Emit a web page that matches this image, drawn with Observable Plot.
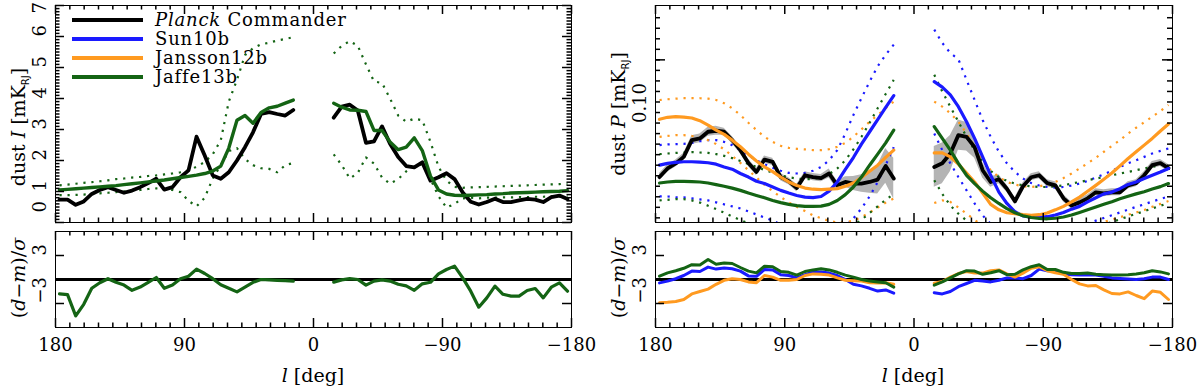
<!DOCTYPE html>
<html><head><meta charset="utf-8">
<script src="https://cdn.jsdelivr.net/npm/d3@7"></script>
<script src="https://cdn.jsdelivr.net/npm/@observablehq/plot@0.6"></script>
<style>
body{margin:0;background:#fff;}
#c{position:relative;width:1200px;height:386px;font-family:"DejaVu Serif",serif;color:#000;overflow:hidden;background:#fff}
#c svg{position:absolute}
.lab{position:absolute;white-space:nowrap;font-size:19px;line-height:1}
.rot{transform:translate(-50%,-50%) rotate(-90deg)}
.ctr{transform:translate(-50%,-50%)}
.sb{font-family:"DejaVu Sans",sans-serif;font-size:10px;position:relative;top:4px}
#legend{position:absolute;left:72px;top:10px;font-size:18px;letter-spacing:0.8px;line-height:18px}
#legend .row{height:19px;display:flex;align-items:center}
#legend .sw{display:inline-block;width:71px;height:4px;margin-right:12px}
</style></head>
<body><div id="c"></div>
<script>
// Galactic longitude grid (deg)
const lPos = [177.2,171.6,165.9,160.3,154.7,149.1,143.4,137.8,132.2,126.6,120.9,115.3,109.7,104.1,98.4,92.8,87.2,81.6,75.9,70.3,64.7,59.1,53.4,47.8,42.2,36.6,30.9,25.3,19.7,14.1];
const lNeg = [-14.1,-19.7,-25.3,-30.9,-36.6,-42.2,-47.8,-53.4,-59.1,-64.7,-70.3,-75.9,-81.6,-87.2,-92.8,-98.4,-104.1,-109.7,-115.3,-120.9,-126.6,-132.2,-137.8,-143.4,-149.1,-154.7,-160.3,-165.9,-171.6,-177.2];

// dust I [mK_RJ]
const IPlanckPos = [0.74,0.74,0.57,0.68,0.92,1.05,1.14,1.05,0.96,1.03,1.14,1.27,1.41,1.06,1.14,1.46,1.68,2.77,2.16,1.52,1.41,1.62,2.0,2.43,2.91,3.5,3.56,3.5,3.45,3.63];
const IPlanckNeg = [3.38,3.74,3.8,3.61,2.57,2.62,3.1,2.54,2.11,1.82,1.78,1.94,1.35,1.46,1.59,1.4,0.97,0.67,0.58,0.66,0.77,0.66,0.66,0.71,0.76,0.74,0.66,0.82,0.87,0.76];
const IJaffePos = [1.05,1.07,1.09,1.11,1.13,1.15,1.17,1.19,1.22,1.25,1.28,1.31,1.34,1.37,1.41,1.45,1.49,1.53,1.58,1.66,1.82,2.4,3.3,3.45,3.2,3.55,3.7,3.75,3.85,3.95];
const IJaffeNeg = [3.85,3.72,3.63,3.62,3.58,2.97,2.97,2.6,2.35,2.43,2.73,2.32,1.5,1.05,0.92,0.88,0.87,0.88,0.89,0.9,0.92,0.93,0.95,0.96,0.97,0.98,0.99,1.0,1.01,1.03];
const IJaffeHiPos = [1.2,1.22,1.25,1.28,1.3,1.33,1.36,1.4,1.42,1.45,1.47,1.5,1.52,1.55,1.58,1.62,1.68,1.8,1.95,2.2,2.65,3.9,4.6,5.4,5.62,5.75,5.8,5.87,5.92,5.98];
const IJaffeLoPos = [0.88,0.88,0.89,0.9,0.92,0.94,0.96,0.98,1.0,1.02,1.05,1.08,1.1,1.08,1.05,0.98,0.7,0.52,0.8,1.42,1.85,2.3,2.4,2.05,1.85,1.75,1.73,1.62,1.85,1.92];
const IJaffeHiNeg = [5.45,5.7,5.85,5.7,5.1,4.55,4.5,4.0,3.45,3.25,3.35,3.3,2.6,1.8,1.35,1.15,1.12,1.13,1.14,1.15,1.16,1.17,1.18,1.19,1.2,1.21,1.22,1.23,1.24,1.25];
const IJaffeLoNeg = [2.2,1.85,1.42,1.6,2.1,1.9,1.45,1.25,1.4,1.65,1.82,1.88,1.4,0.85,0.48,0.6,0.78,0.8,0.78,0.8,0.8,0.81,0.81,0.82,0.82,0.83,0.83,0.84,0.84,0.85];
// (d-m)/sigma for I
const RIJaffePos = [-1.8,-1.9,-4.55,-3.1,-1.1,-0.4,0.1,-0.35,-0.7,-1.35,-0.95,-0.35,0.25,-1.1,-0.7,0.1,0.4,1.3,0.75,0.1,-0.65,-1.1,-1.55,-0.95,-0.35,0.0,-0.05,-0.1,-0.15,-0.2];
const RIJaffeNeg = [-0.33,-0.05,0.1,0.0,-0.7,-0.2,-0.05,-0.2,-0.6,-0.8,-1.35,-0.54,-0.35,0.71,1.25,1.67,0.21,-1.46,-3.46,-2.3,-0.83,-1.85,-2.08,-2.08,-1.38,-1.13,-2.3,-0.96,-0.42,-1.46];

// dust P [mK_RJ]
const PPlanckPos = [0.0553,0.0608,0.0642,0.069,0.0829,0.0845,0.0909,0.0919,0.0909,0.0829,0.0743,0.0646,0.0585,0.067,0.0653,0.0553,0.0528,0.049,0.0564,0.0553,0.0547,0.0575,0.0505,0.0524,0.0515,0.0515,0.0524,0.0538,0.0625,0.0544];
const PPlanckNeg = [0.0618,0.0643,0.0716,0.0876,0.086,0.0768,0.0596,0.0524,0.054,0.0487,0.0424,0.05,0.0552,0.0564,0.0517,0.0505,0.0438,0.0405,0.0419,0.0438,0.0468,0.0463,0.0468,0.0468,0.0505,0.0517,0.0564,0.063,0.0645,0.061];
const PErrPos = [0.04,0.04,0.04,0.04,0.05,0.05,0.05,0.05,0.04,0.04,0.04,0.04,0.04,0.04,0.04,0.04,0.04,0.04,0.04,0.04,0.04,0.05,0.05,0.06,0.08,0.1,0.13,0.17,0.21,0.25];
const PErrNeg = [0.25,0.25,0.22,0.18,0.17,0.13,0.09,0.06,0.05,0.04,0.04,0.04,0.04,0.04,0.04,0.04,0.04,0.04,0.04,0.04,0.04,0.04,0.04,0.04,0.04,0.04,0.04,0.04,0.04,0.04];
const PSunPos = [0.063,0.0643,0.065,0.0654,0.0654,0.0652,0.0647,0.0637,0.0618,0.0603,0.0575,0.0553,0.0528,0.0515,0.0496,0.0478,0.0464,0.0452,0.0444,0.0441,0.0447,0.0474,0.0524,0.0601,0.0685,0.0794,0.0909,0.1038,0.1188,0.1351];
const PSunNeg = [0.1576,0.1482,0.1361,0.1197,0.1014,0.0845,0.069,0.0564,0.0469,0.0414,0.0378,0.0361,0.0356,0.0356,0.0358,0.0365,0.0375,0.0389,0.0401,0.0421,0.0441,0.046,0.0469,0.0487,0.051,0.0524,0.0544,0.0564,0.0585,0.0608];
const PSunHiPos = [0.0785,0.0791,0.0794,0.0796,0.0805,0.0819,0.0829,0.0829,0.0813,0.0785,0.0743,0.0703,0.0665,0.0637,0.0612,0.0593,0.0579,0.0575,0.0579,0.0593,0.0618,0.0665,0.0743,0.0892,0.1092,0.1313,0.1576,0.1863,0.2116,0.2362];
const PSunLoPos = [0.0447,0.0447,0.0443,0.0443,0.0438,0.0433,0.0428,0.0419,0.041,0.0401,0.0392,0.0379,0.0367,0.0355,0.0343,0.0329,0.0315,0.0302,0.0289,0.0283,0.0283,0.0289,0.0302,0.0323,0.0351,0.0392,0.0447,0.0524,0.063,0.0768];
const PSunHiNeg = [0.2786,0.2406,0.2155,0.2015,0.1606,0.1288,0.1034,0.086,0.073,0.0643,0.0585,0.0544,0.0518,0.0504,0.0496,0.0493,0.0496,0.0504,0.0515,0.053,0.055,0.0571,0.0592,0.0618,0.0643,0.0665,0.069,0.0716,0.0737,0.0757];
const PSunLoNeg = [0.0892,0.0743,0.0643,0.0553,0.0478,0.0414,0.0363,0.0331,0.0308,0.0297,0.029,0.029,0.029,0.0292,0.0297,0.0302,0.0308,0.0315,0.0324,0.0333,0.0343,0.0353,0.0364,0.0375,0.0387,0.0399,0.041,0.0423,0.0435,0.0447];
const PJanPos = [0.1042,0.1065,0.1072,0.1068,0.1057,0.1026,0.0978,0.0926,0.0883,0.0829,0.0771,0.0711,0.066,0.0618,0.0587,0.0553,0.0524,0.0504,0.049,0.0484,0.0482,0.0484,0.0487,0.05,0.0518,0.055,0.0589,0.063,0.0686,0.0743];
const PJanNeg = [0.0721,0.0721,0.069,0.0637,0.0578,0.0524,0.0464,0.041,0.0386,0.0374,0.037,0.0366,0.0363,0.0366,0.0373,0.0386,0.0401,0.0421,0.0444,0.0473,0.0505,0.054,0.0578,0.0625,0.0678,0.073,0.0785,0.0845,0.0917,0.0989];
const PJanHiPos = [0.1288,0.1298,0.1307,0.1313,0.1313,0.1313,0.1307,0.1288,0.1243,0.1176,0.1092,0.1003,0.0926,0.086,0.0814,0.0779,0.0762,0.0754,0.0749,0.0743,0.0743,0.0751,0.0771,0.0805,0.086,0.0933,0.1014,0.1092,0.1176,0.1265];
const PJanLoPos = [0.086,0.0868,0.0876,0.0876,0.0868,0.0854,0.0829,0.0794,0.0749,0.0698,0.0646,0.0596,0.055,0.0508,0.0474,0.0444,0.0419,0.0399,0.0381,0.0363,0.0352,0.0342,0.0336,0.0337,0.0343,0.0356,0.0375,0.0396,0.0418,0.0437];
const PJanHiNeg = [0.1265,0.1197,0.1113,0.1014,0.0892,0.0771,0.0665,0.0596,0.0553,0.0524,0.0509,0.05,0.0496,0.05,0.0509,0.0524,0.0547,0.0575,0.0608,0.0643,0.0683,0.073,0.0779,0.0829,0.0892,0.095,0.1008,0.1072,0.1141,0.1219];
const PJanLoNeg = [0.0416,0.0428,0.0421,0.0396,0.037,0.0346,0.0325,0.0308,0.0297,0.029,0.0287,0.0285,0.0285,0.0287,0.029,0.0297,0.0302,0.0308,0.0315,0.0322,0.033,0.0338,0.0347,0.0356,0.0366,0.0375,0.0385,0.0399,0.0412,0.0425];
const PJafPos = [0.0518,0.0524,0.0528,0.0528,0.0526,0.0524,0.0518,0.0509,0.05,0.049,0.0478,0.0464,0.0452,0.0441,0.0428,0.0418,0.041,0.0404,0.0401,0.0401,0.0402,0.041,0.0428,0.0456,0.0496,0.0553,0.063,0.0711,0.0805,0.0926];
const PJafNeg = [0.0961,0.0845,0.0743,0.0643,0.0564,0.0515,0.0474,0.0441,0.0414,0.0391,0.0374,0.0362,0.0355,0.0351,0.035,0.0352,0.0357,0.0365,0.0375,0.0386,0.0398,0.041,0.0422,0.0436,0.0448,0.046,0.0471,0.0485,0.0498,0.0515];
const PJafHiPos = [0.0711,0.0716,0.0721,0.0724,0.0727,0.0724,0.0721,0.0711,0.0698,0.0681,0.066,0.0638,0.0618,0.0598,0.0581,0.0564,0.0552,0.0544,0.054,0.0542,0.055,0.0571,0.0608,0.0665,0.0749,0.086,0.1003,0.1176,0.1376,0.1606];
const PJafLoPos = [0.0428,0.0431,0.0434,0.0434,0.0428,0.0418,0.0404,0.0389,0.0374,0.0359,0.0345,0.0333,0.0322,0.0313,0.0305,0.0299,0.0293,0.0289,0.0286,0.0285,0.0286,0.0288,0.0297,0.0309,0.0325,0.0346,0.0373,0.0401,0.0431,0.046];
const PJafHiNeg = [0.1697,0.1412,0.1197,0.1014,0.086,0.0743,0.0654,0.0592,0.0553,0.053,0.0515,0.0505,0.05,0.0496,0.0496,0.05,0.0505,0.0515,0.0524,0.0534,0.0544,0.0553,0.0564,0.0575,0.0585,0.0596,0.0608,0.0618,0.063,0.0643];
const PJafLoNeg = [0.0534,0.046,0.0405,0.037,0.0343,0.0322,0.0306,0.0295,0.0289,0.0285,0.0282,0.0281,0.0281,0.0282,0.0285,0.0288,0.029,0.0297,0.0303,0.0311,0.0319,0.0328,0.0338,0.0348,0.0359,0.037,0.038,0.0392,0.0404,0.0416];
// (d-m)/sigma for P
const RSunPos = [-0.42,-0.2,0.1,0.5,1.05,1.0,1.55,1.3,1.45,1.35,1.05,0.45,0.4,1.25,1.2,0.6,0.5,0.2,0.6,0.9,0.95,0.8,0.5,0.0,-0.6,-0.8,-1.1,-1.45,-1.3,-1.7];
const RSunNeg = [-1.65,-1.8,-1.5,-0.9,-0.5,-0.1,-0.2,-0.3,-0.1,0.2,0.2,0.1,0.5,1.3,1.1,1.05,0.7,0.6,0.55,0.6,0.55,0.4,0.2,0.12,0.05,0.0,0.1,0.3,0.3,0.0];
const RJanPos = [-2.9,-2.85,-2.75,-2.5,-1.8,-1.5,-1.2,-0.6,-0.1,0.1,0.0,-0.3,-0.4,0.5,0.3,-0.1,-0.1,0.0,0.5,0.7,0.65,0.55,0.2,-0.1,-0.15,-0.2,-0.4,-0.45,-0.4,-0.6];
const RJanNeg = [-0.45,-0.25,0.3,0.75,1.0,0.8,0.8,1.1,1.2,0.7,0.3,0.8,1.4,1.6,1.1,0.85,0.65,0.0,-0.55,-0.8,-0.75,-1.3,-1.75,-1.8,-1.55,-2.0,-2.4,-1.45,-1.6,-2.5];
const RJafPos = [0.42,0.83,1.1,1.4,1.85,1.8,2.5,1.9,2.05,2.0,1.5,1.05,0.83,1.67,1.6,1.0,0.9,0.55,1.0,1.2,1.35,1.2,0.9,0.55,0.3,0.0,-0.2,-0.3,-0.4,-0.95];
const RJafNeg = [-0.7,-0.3,0.2,0.7,1.1,1.05,0.65,0.85,1.1,0.6,0.65,1.2,1.6,1.85,1.25,1.25,0.9,0.75,0.75,0.8,0.65,0.6,0.55,0.55,0.6,0.7,0.85,1.1,0.95,0.7];

// axis ticks and labels
const xTickVals = [180, 90, 0, -90, -180];
const xTickLabels = ["180", "90", "0", "−90", "−180"];
const iTickVals = [0,1,2,3,4,5,6,7];
const iTickLabels = ["0","1","2","3","4","5","6","7"];
const rTickVals = [3, -3];
const rTickLabels = ["3", "−3"];
const pTickVals = [0.1];
const pTickLabels = ["0.10"];

const series = ["Planck Commander", "Sun10b", "Jansson12b", "Jaffe13b"];
const colors = ["#000000", "#1a1aff", "#ff9a20", "#146414"];
const [cBlack, cBlue, cOrange, cGreen] = colors;

const rows = (pos, neg) => [
  ...lPos.map((l, i) => ({l, v: pos[i], s: "pos"})),
  ...lNeg.map((l, i) => ({l, v: neg[i], s: "neg"}))
];
const band = (pos, neg, ep, en) => [
  ...lPos.map((l, i) => ({l, lo: pos[i] / (1 + ep[i]), hi: pos[i] * (1 + ep[i]), s: "pos"})),
  ...lNeg.map((l, i) => ({l, lo: neg[i] / (1 + en[i]), hi: neg[i] * (1 + en[i]), s: "neg"}))
];

const xMinor = d3.range(-170, 180, 10).filter(d => d % 90 !== 0);
const tk = {stroke: "#000", strokeWidth: 1.5};
// inward ticks: y ticks on left/right edges, x ticks on bottom/top edges (lengths in px converted via scale extents)
function ticksY(vals, len, fw) {
  const dl = len * 360 / fw;
  return [
    Plot.ruleY(vals, {y: d => d, x1: 180, x2: 180 - dl, ...tk}),
    Plot.ruleY(vals, {y: d => d, x1: -180, x2: -180 + dl, ...tk})
  ];
}
function ticksX(vals, len, fh, y0, y1, log = false) {
  const t = len / fh;
  const lo = log ? y0 * Math.pow(y1 / y0, t) : y0 + (y1 - y0) * t;
  const hi = log ? y1 * Math.pow(y0 / y1, t) : y1 - (y1 - y0) * t;
  return [
    Plot.ruleX(vals, {x: d => d, y1: y0, y2: lo, ...tk}),
    Plot.ruleX(vals, {x: d => d, y1: y1, y2: hi, ...tk})
  ];
}
const dotted = (data, color) => Plot.line(data, {x: "l", y: "v", z: "s", stroke: color, strokeWidth: 2.2, strokeDasharray: "2.2,5.8", strokeLinecap: "butt", clip: true});
const solid = (data, color, w = 3.2) => Plot.line(data, {x: "l", y: "v", z: "s", stroke: color, strokeWidth: w, strokeLinejoin: "round", clip: true});
function yLabelsClamped(vals, labs) {
  const items = vals.map((v, i) => ({v, t: labs[i]}));
  const mk = (arr, dy) => Plot.text(arr, {y: "v", text: "t", frameAnchor: "left", dx: -15, dy, rotate: -90, fontSize: 18});
  return [mk(items.slice(1, -1), 0), mk(items.slice(0, 1), -10), mk(items.slice(-1), 8)];
}
function yLabelsPlain(vals, labs) {
  const items = vals.map((v, i) => ({v, t: labs[i]}));
  return [Plot.text(items, {y: "v", text: "t", frameAnchor: "left", dx: -15, rotate: -90, fontSize: 18})];
}
const xLabels = Plot.text(xTickVals.map((v, i) => ({v, t: xTickLabels[i]})), {x: "v", text: "t", frameAnchor: "bottom", dy: 23, fontSize: 18});

const base = {width: 600, marginLeft: 55,
  style: {background: "transparent", fontFamily: "DejaVu Serif", fontSize: "18px", overflow: "visible"},
  x: {domain: [180, -180], axis: null}};
// main panels: svg at top 0, frame y 5..222 ; residual panels: svg at top 226, frame y 231..327
const mainV = {height: 226, marginTop: 5, marginBottom: 4};
const resV = {height: 160, marginTop: 5, marginBottom: 59};
const HM = 217, HR = 96, WL = 516, WR = 517;
const iDom = [0, 7], rDom = [-6, 6], pDom = [0.0336, 0.363];

const c = document.getElementById("c");
function put(svg, left, top) { svg.style.left = left + "px"; svg.style.top = top + "px"; c.appendChild(svg); }

// Left main: dust I
put(Plot.plot({...base, ...mainV, marginRight: 29,
  y: {domain: iDom, axis: null},
  marks: [
    ...yLabelsClamped(iTickVals, iTickLabels),
    dotted(rows(IJaffeHiPos, IJaffeHiNeg), cGreen),
    dotted(rows(IJaffeLoPos, IJaffeLoNeg), cGreen),
    solid(rows(IPlanckPos, IPlanckNeg), cBlack, 3.8),
    solid(rows(IJaffePos, IJaffeNeg), cGreen, 3.4),
    ...ticksY(iTickVals, 9, WL), ...ticksY(d3.range(1, 70).filter(d => d % 10 !== 0).map(d => d / 10), 4.5, WL),
    ...ticksX(xTickVals, 9, HM, ...iDom), ...ticksX(xMinor, 4.5, HM, ...iDom),
    Plot.frame({stroke: "black"})
  ]}), 0, 0);

// Left residual
put(Plot.plot({...base, ...resV, marginRight: 29,
  y: {domain: rDom, axis: null},
  marks: [
    ...yLabelsPlain(rTickVals, rTickLabels), xLabels,
    Plot.ruleY([0], {stroke: "black", strokeWidth: 3}),
    solid(rows(RIJaffePos, RIJaffeNeg), cGreen, 3.2),
    ...ticksY(rTickVals, 9, WL),
    ...ticksX(xTickVals, 9, HR, ...rDom), ...ticksX(xMinor, 4.5, HR, ...rDom),
    Plot.frame({stroke: "black"})
  ]}), 0, 226);

// Right main: dust P
const pTicks = d3.range(-9, 11).map(k => 0.1 * Math.pow(2, k / 6));
put(Plot.plot({...base, ...mainV, marginRight: 28,
  y: {type: "log", domain: pDom, axis: null},
  marks: [
    ...yLabelsPlain(pTickVals, pTickLabels),
    Plot.areaY(band(PPlanckPos, PPlanckNeg, PErrPos, PErrNeg), {x: "l", y1: "lo", y2: "hi", z: "s", fill: "#b4b4b4", clip: true}),
    dotted(rows(PSunHiPos, PSunHiNeg), cBlue), dotted(rows(PSunLoPos, PSunLoNeg), cBlue),
    dotted(rows(PJanHiPos, PJanHiNeg), cOrange), dotted(rows(PJanLoPos, PJanLoNeg), cOrange),
    dotted(rows(PJafHiPos, PJafHiNeg), cGreen), dotted(rows(PJafLoPos, PJafLoNeg), cGreen),
    solid(rows(PPlanckPos, PPlanckNeg), cBlack, 3.8),
    solid(rows(PSunPos, PSunNeg), cBlue),
    solid(rows(PJanPos, PJanNeg), cOrange),
    solid(rows(PJafPos, PJafNeg), cGreen),
    ...ticksY(pTicks, 5, WR), ...ticksY([0.2], 10, WR),
    ...ticksX(xTickVals, 9, HM, ...pDom, true), ...ticksX(xMinor, 4.5, HM, ...pDom, true),
    Plot.frame({stroke: "black"})
  ]}), 600, 0);

// Right residual
put(Plot.plot({...base, ...resV, marginRight: 28,
  y: {domain: rDom, axis: null},
  marks: [
    ...yLabelsPlain(rTickVals, rTickLabels), xLabels,
    Plot.ruleY([0], {stroke: "black", strokeWidth: 3}),
    solid(rows(RSunPos, RSunNeg), cBlue, 3),
    solid(rows(RJanPos, RJanNeg), cOrange, 3),
    solid(rows(RJafPos, RJafNeg), cGreen, 3),
    ...ticksY(rTickVals, 9, WR),
    ...ticksX(xTickVals, 9, HR, ...rDom), ...ticksX(xMinor, 4.5, HR, ...rDom),
    Plot.frame({stroke: "black"})
  ]}), 600, 226);

// Text overlays (axis titles, legend)
function lab(html, x, y, cls) {
  const d = document.createElement("div");
  d.className = "lab " + cls; d.style.left = x + "px"; d.style.top = y + "px"; d.innerHTML = html; c.appendChild(d);
}
lab('dust <i>I</i> [mK<span class="sb">RJ</span>]', 18, 127, "rot");
lab('dust <i>P</i> [mK<span class="sb">RJ</span>]', 618, 114, "rot");
lab('(<i>d</i>−<i>m</i>)/<i>σ</i>', 18, 278, "rot");
lab('(<i>d</i>−<i>m</i>)/<i>σ</i>', 618, 278, "rot");
lab('<i>l</i> [deg]', 313, 375, "ctr");
lab('<i>l</i> [deg]', 913, 375, "ctr");

const lg = document.createElement("div"); lg.id = "legend";
lg.innerHTML = series.map((s, i) =>
  `<div class="row"><span class="sw" style="background:${colors[i]}"></span><span>${i === 0 ? '<i>Planck</i> Commander' : s}</span></div>`).join("");
c.appendChild(lg);
</script></body></html>
